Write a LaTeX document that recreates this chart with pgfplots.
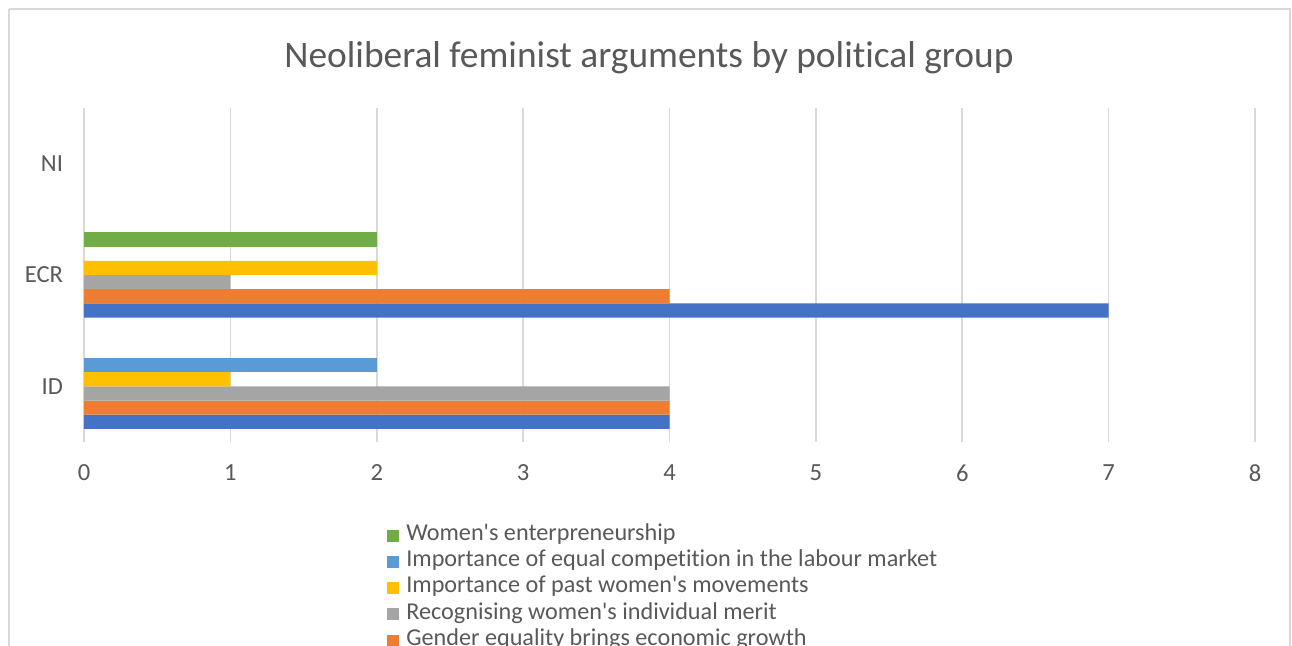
\documentclass[border=0pt]{standalone}
\usepackage{fontspec}
\setmainfont{Carlito}[Ligatures={TeXOff,NoCommon}]
\usepackage{pgfplots}
\pgfplotsset{compat=1.18}
\definecolor{s1}{HTML}{4472C4}
\definecolor{s2}{HTML}{ED7D31}
\definecolor{s3}{HTML}{A5A5A5}
\definecolor{s4}{HTML}{FFC000}
\definecolor{s5}{HTML}{5B9BD5}
\definecolor{s6}{HTML}{70AD47}
\definecolor{txt}{HTML}{595959}
\definecolor{gridc}{HTML}{D9D9D9}
\begin{document}
\begin{tikzpicture}
\fill[white] (0,0) rectangle (646pt,323pt);
\begin{scope}[overlay]
\draw[gridc, line width=0.6pt] (4.5pt,318.5pt) -- (645pt,318.5pt) -- (645pt,-50pt);
\draw[gridc, line width=0.6pt] (4.5pt,318.5pt) -- (4.5pt,-50pt);
\node[anchor=base, font=\fontsize{18.7}{22}\selectfont, text=txt] at (324.5pt,289pt) {Neoliberal feminist arguments by political group};
\begin{axis}[
  at={(42pt,102pt)}, anchor=south west,
  scale only axis, width=585.5pt, height=167pt,
  xmin=0, xmax=8, ymin=-0.5, ymax=2.5,
  xtick={0,1,2,3,4,5,6,7,8}, ytick={0,1,2}, yticklabels={ID,ECR,NI},
  xmajorgrids, major grid style={gridc, line width=0.8pt},
  axis line style={draw=none}, tick style={draw=none},
  ticklabel style={font=\fontsize{12.3}{14}\selectfont, text=txt},
  xticklabel style={anchor=center, yshift=-15.5pt},
  yticklabel style={anchor=east, inner xsep=0pt, xshift=-6pt},
  /pgf/number format/assume math mode=true,
  xbar, bar width=7.1pt,
  reverse legend,
  legend style={at={(0.2587,-0.2395)}, anchor=north west, draw=none, fill=none, inner sep=0pt,
    font=\fontsize{12.1}{14}\selectfont, text=txt, cells={anchor=west}, row sep=0pt,
    nodes={inner ysep=0pt, inner xsep=3pt, text height=9pt, text depth=4.15pt},
    /tikz/every odd column/.append style={column sep=0.5pt}},
  legend image code/.code={\fill[#1] (0pt,-3pt) rectangle (6pt,3pt);},
]
\addplot[fill=s1, draw=none, bar shift=-17.75pt, forget plot] coordinates {(4,0) (7,1)};
\addplot[fill=s2, draw=none, bar shift=-10.65pt] coordinates {(4,0) (4,1)};
\addlegendentry{Gender equality brings economic growth}
\addplot[fill=s3, draw=none, bar shift=-3.55pt] coordinates {(4,0) (1,1)};
\addlegendentry{Recognising women's individual merit}
\addplot[fill=s4, draw=none, bar shift=3.55pt] coordinates {(1,0) (2,1)};
\addlegendentry{Importance of past women's movements}
\addplot[fill=s5, draw=none, bar shift=10.65pt] coordinates {(2,0)};
\addlegendentry{Importance of equal competition in the labour market}
\addplot[fill=s6, draw=none, bar shift=17.75pt] coordinates {(2,1)};
\addlegendentry{Women's enterpreneurship}
\end{axis}
\end{scope}
\end{tikzpicture}
\end{document}
